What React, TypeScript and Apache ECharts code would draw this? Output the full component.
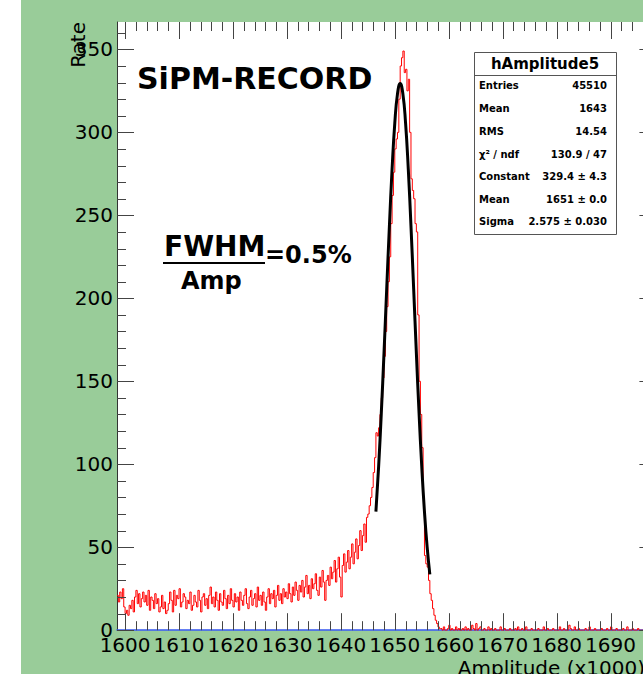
import React, { useEffect, useRef } from "react";
import * as echarts from "echarts";

// ---- axis ranges ----
const X_MIN = 1598.5;
const X_MAX = 1698.5;
const BIN_WIDTH = 0.25;
const Y_MAX = 366.5;

// ---- histogram counts per 0.25 bin ----
// 1598.5 .. 1619.75
const countsBaseline = [
  21, 17, 23, 19, 25, 14, 10, 12, 9, 15,
  13, 18, 11, 20, 24, 16, 22, 14, 19, 23,
  17, 21, 15, 24, 12, 20, 18, 13, 22, 16,
  19, 11, 14, 21, 13, 17, 10, 12, 16, 23,
  18, 11, 24, 15, 21, 19, 25, 14, 17, 22,
  20, 13, 18, 16, 23, 12, 15, 21, 17, 14,
  24, 18, 11, 20, 22, 15, 19, 13, 21, 26,
  16, 20, 14, 23, 18, 12, 22, 17, 15, 24,
  19, 13, 21, 16, 25, 18,
];
// 1620 .. 1644.75
const countsRamp = [
  14, 22, 17, 20, 12, 23, 18, 15, 21, 25,
  16, 13, 20, 24, 15, 19, 22, 14, 26, 18,
  21, 15, 23, 17, 12, 20, 25, 16, 22, 19,
  24, 14, 21, 27, 18, 22, 16, 25, 20, 23,
  19, 28, 22, 17, 26, 21, 29, 24, 18, 27,
  23, 30, 20, 26, 33, 22, 27, 19, 31, 25,
  28, 34, 24, 21, 32, 26, 36, 29, 18, 30,
  33, 27, 38, 31, 35, 42, 29, 37, 44, 32,
  20, 39, 46, 35, 41, 48, 37, 44, 52, 40,
  47, 55, 43, 51, 60, 48, 57, 64, 53, 68,
];
// 1645 .. 1658.25
const countsPeak = [
  70, 75, 80, 86, 95, 104, 119, 117, 122, 130,
  140, 152, 165, 180, 195, 210, 225, 245, 262, 276,
  290, 296, 300, 320, 340, 345, 349, 336, 338, 325,
  332, 300, 272, 265, 260, 245, 240, 190, 150, 130,
  110, 80, 45, 40, 38, 30, 22, 18, 13, 9,
  6, 4, 2, 1,
];
// 1658.5 .. 1698.25
const countsTail = [
  1, 0, 2, 0, 0, 1, 3, 0, 1, 0,
  0, 2, 0, 1, 0, 0, 1, 0, 2, 0,
  1, 0, 0, 3, 1, 0, 4, 0, 1, 2,
  0, 0, 1, 0, 0, 2, 0, 1, 0, 0,
  1, 0, 0, 0, 2, 0, 0, 1, 0, 0,
  0, 1, 0, 0, 0, 1, 0, 2, 0, 0,
  1, 0, 0, 2, 0, 0, 0, 1, 0, 0,
  0, 0, 1, 0, 0, 0, 2, 0, 0, 1,
  0, 0, 0, 1, 0, 0, 0, 0, 2, 0,
  0, 1, 0, 0, 0, 3, 1, 0, 0, 2,
  0, 0, 1, 0, 0, 0, 0, 1, 0, 0,
  2, 0, 0, 0, 1, 0, 0, 0, 0, 1,
  0, 0, 0, 1, 0, 0, 2, 0, 0, 0,
  1, 0, 0, 0, 0, 1, 0, 0, 2, 0,
  0, 0, 1, 0, 0, 0, 1, 0, 0, 0,
  0, 1, 0, 0, 2, 0, 0, 0, 1, 0,
];
const counts = [...countsBaseline, ...countsRamp, ...countsPeak, ...countsTail];

// ---- Gaussian fit curve, 1646.5 .. 1656.5 step 0.5 ----
const FIT_START = 1646.5;
const FIT_STEP = 0.5;
const fitValues = [
  71.5, 98.5, 130.8, 167, 205.6, 243.5, 278, 305.5, 323.2, 329.4,
  323.2, 305.5, 278, 243.5, 205.6, 167, 130.8, 98.5, 71.5, 50, 33.6,
];

// ---- ticks / labels ----
const xTickLabels = [1600, 1610, 1620, 1630, 1640, 1650, 1660, 1670, 1680, 1690];
const yTickLabels = [0, 50, 100, 150, 200, 250, 300, 350];
const xMinorTicks: number[] = [];
for (let v = 1600; v <= 1698; v += 2) if (v % 10 !== 0) xMinorTicks.push(v);
const yMinorTicks: number[] = [];
for (let v = 10; v <= 360; v += 10) if (v % 50 !== 0) yMinorTicks.push(v);

// ---- stats box ----
const statsTitle = "hAmplitude5";
const statsLabels = ["Entries", "Mean", "RMS", "χ² / ndf", "Constant", "Mean", "Sigma"];
const statsValues = ["45510", "1643", "14.54", "130.9 / 47", "329.4 ± 4.3", "1651 ± 0.0", "2.575 ± 0.030"];

const FONT = "DejaVu Sans";
const GREEN = "#99cc99";

function tickSeries(values: number[], axis: "x" | "y", len: number) {
  return {
    type: "custom",
    silent: true,
    clip: false,
    z: 5,
    data: values.map((v) => (axis === "x" ? [v, 0] : [X_MIN, v])),
    encode: { x: 0, y: 1 },
    renderItem: (params: any, api: any) => {
      const cs = params.coordSys;
      const p = api.coord([api.value(0), api.value(1)]);
      const style = { stroke: "#444", lineWidth: 1 };
      if (axis === "x") {
        const x = Math.round(p[0]) + 0.5;
        const b = cs.y + cs.height;
        const t = cs.y;
        return {
          type: "group",
          children: [
            { type: "line", shape: { x1: x, y1: b, x2: x, y2: b - len }, style },
            { type: "line", shape: { x1: x, y1: t, x2: x, y2: t + len }, style },
          ],
        };
      }
      const y = Math.round(p[1]) + 0.5;
      const l = cs.x;
      const r = cs.x + cs.width;
      return {
        type: "group",
        children: [
          { type: "line", shape: { x1: l, y1: y, x2: l + len, y2: y }, style },
          { type: "line", shape: { x1: r, y1: y, x2: r - len, y2: y }, style },
        ],
      };
    },
  };
}

export default function App() {
  const ref = useRef<HTMLDivElement>(null);
  useEffect(() => {
    if (!ref.current) return;
    const chart = echarts.init(ref.current, null, { renderer: "svg" });

    const histData: number[][] = counts.map((c, i) => [X_MIN + i * BIN_WIDTH, c]);
    histData.push([X_MIN + counts.length * BIN_WIDTH, counts[counts.length - 1]]);
    const fitData = fitValues.map((v, i) => [FIT_START + i * FIT_STEP, v]);

    const rowYs = [85, 108, 131, 154, 176, 199, 221];
    const statsChildren: any[] = [
      { type: "rect", shape: { x: 474.5, y: 52.5, width: 142, height: 182 }, style: { fill: "#fff", stroke: "#555", lineWidth: 1 } },
      { type: "line", shape: { x1: 474.5, y1: 75.5, x2: 616.5, y2: 75.5 }, style: { stroke: "#555", lineWidth: 1 } },
      { type: "text", x: 545, y: 64, style: { text: statsTitle, fontFamily: FONT, fontWeight: "bold", fontSize: 15, fill: "#000", align: "center", verticalAlign: "middle" } },
    ];
    statsLabels.forEach((lab, i) => {
      statsChildren.push({ type: "text", x: 479, y: rowYs[i], style: { text: lab, fontFamily: FONT, fontWeight: "bold", fontSize: 10, fill: "#000", align: "left", verticalAlign: "middle" } });
      statsChildren.push({ type: "text", x: 607, y: rowYs[i], style: { text: statsValues[i], fontFamily: FONT, fontWeight: "bold", fontSize: 10, fill: "#000", align: "right", verticalAlign: "middle" } });
    });

    chart.setOption({
      animation: false,
      backgroundColor: GREEN,
      textStyle: { fontFamily: FONT },
      grid: { left: 117, top: 22, width: 539.4, height: 608.2, show: true, backgroundColor: "#ffffff", borderWidth: 0 },
      xAxis: {
        type: "value",
        min: X_MIN,
        max: X_MAX,
        axisLine: { show: true, onZero: false, lineStyle: { color: "#3355ee", width: 1.5 } },
        axisTick: { show: false },
        splitLine: { show: false },
        axisLabel: {
          customValues: xTickLabels,
          formatter: (v: number) => String(v),
          showMinLabel: true,
          showMaxLabel: true,
          hideOverlap: false,
          fontFamily: FONT,
          fontSize: 20,
          color: "#000",
          margin: 5,
        },
      },
      yAxis: {
        type: "value",
        min: 0,
        max: Y_MAX,
        axisLine: { show: true, lineStyle: { color: "#333", width: 1 } },
        axisTick: { show: false },
        splitLine: { show: false },
        axisLabel: {
          customValues: yTickLabels,
          formatter: (v: number) => String(v),
          showMinLabel: true,
          hideOverlap: false,
          fontFamily: FONT,
          fontSize: 20,
          color: "#000",
          margin: 4,
        },
      },
      series: [
        {
          type: "line",
          step: "end",
          data: histData,
          showSymbol: false,
          symbol: "none",
          lineStyle: { color: "#ff0000", width: 1 },
          z: 3,
        },
        {
          type: "line",
          smooth: true,
          data: fitData,
          showSymbol: false,
          symbol: "none",
          lineStyle: { color: "#000000", width: 3 },
          z: 4,
        },
        tickSeries(xTickLabels, "x", 17),
        tickSeries(xMinorTicks, "x", 9),
        tickSeries(yTickLabels, "y", 17),
        tickSeries(yMinorTicks, "y", 9),
      ],
      graphic: [
        { type: "rect", shape: { x: 0, y: 0, width: 21, height: 674 }, style: { fill: "#ffffff" }, z: 0 },
        { type: "text", x: 78, y: 22, rotation: Math.PI / 2, style: { text: "Rate", fontFamily: FONT, fontSize: 20, fill: "#000", align: "right", verticalAlign: "middle" }, z: 10 },
        { type: "text", x: 645, y: 668, style: { text: "Amplitude (x1000)", fontFamily: FONT, fontSize: 20, fill: "#000", align: "right", verticalAlign: "middle" }, z: 10 },
        { type: "text", x: 137, y: 78, style: { text: "SiPM-RECORD", fontFamily: FONT, fontWeight: "bold", fontSize: 30, fill: "#000", align: "left", verticalAlign: "middle" }, z: 10 },
        { type: "text", x: 164, y: 246, style: { text: "FWHM", fontFamily: FONT, fontWeight: "bold", fontSize: 28, fill: "#000", align: "left", verticalAlign: "middle" }, z: 10 },
        { type: "line", shape: { x1: 163, y1: 263, x2: 265, y2: 263 }, style: { stroke: "#000", lineWidth: 2 }, z: 10 },
        { type: "text", x: 181, y: 281, style: { text: "Amp", fontFamily: FONT, fontWeight: "bold", fontSize: 24, fill: "#000", align: "left", verticalAlign: "middle" }, z: 10 },
        { type: "text", x: 265, y: 255, style: { text: "=0.5%", fontFamily: FONT, fontWeight: "bold", fontSize: 24, fill: "#000", align: "left", verticalAlign: "middle" }, z: 10 },
        { type: "group", children: statsChildren, z: 10 },
      ],
    });
    return () => chart.dispose();
  }, []);

  return (
    <div style={{ position: "fixed", left: 0, top: 0, width: 643, height: 674, overflow: "hidden", background: "#fff" }}>
      <div ref={ref} style={{ width: 700, height: 674 }} />
    </div>
  );
}
